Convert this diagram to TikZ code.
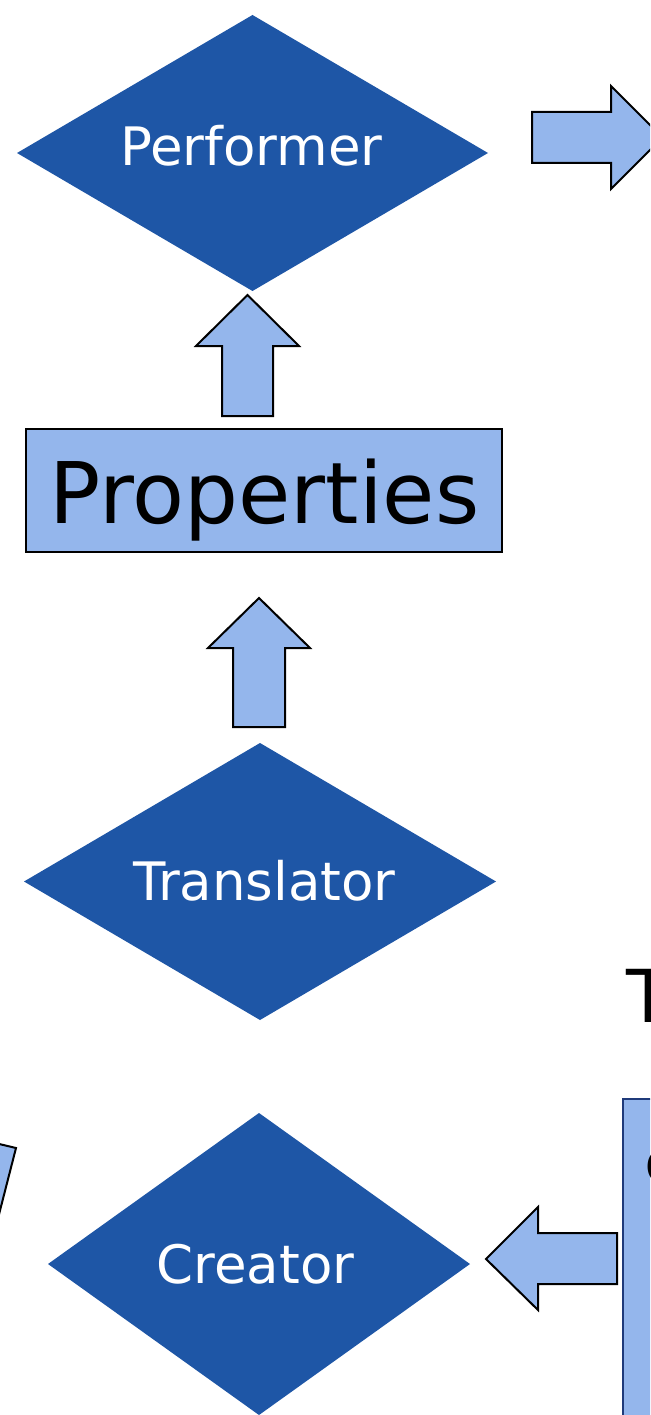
\documentclass[tikz,border=0pt]{standalone}
\usepackage{fontspec}
\setmainfont{DejaVu Sans}
\definecolor{deepblue}{HTML}{1E56A6}
\definecolor{paleblue}{HTML}{94B6EC}
\definecolor{edgenavy}{HTML}{1F3A7A}
\tikzset{
  decision/.style={fill=deepblue},
  blockarrow/.style={draw=black, fill=paleblue, line width=2pt, line join=miter},
  whitelabel/.style={text=white, inner sep=0pt, anchor=base, font=\fontsize{53}{60}\selectfont},
  darklabel/.style={text=black, inner sep=0pt}
}
\begin{document}
\begin{tikzpicture}[x=1pt, y=-1pt]
\useasboundingbox (0,0) rectangle (650,1415);
\clip (0,0) rectangle (650,1415);

% decision diamonds
\fill[decision] (17,153) -- (252.5,15) -- (488,153) -- (252.5,291) -- cycle;
\fill[decision] (24,881.5) -- (260,743) -- (496,881.5) -- (260,1020) -- cycle;
\fill[decision] (48,1264) -- (259,1113) -- (470,1264) -- (259,1415) -- cycle;
\node[whitelabel] (performer) at (251.5,166) {Performer};
\node[whitelabel] (translator) at (264.5,900) {Translator};
\node[whitelabel] (creator) at (255.5,1283) {Creator};

% properties box
\draw[fill=paleblue, line width=1.8pt] (26,429) rectangle (502,552);
\node[darklabel, anchor=base, font=\fontsize{85}{96}\selectfont] (properties) at (264.5,523) {Properties};

% block arrows
\draw[blockarrow] (532,112) -- (611,112) -- (611,86) -- (662.5,137.5) -- (611,189) -- (611,163) -- (532,163) -- cycle;
\draw[blockarrow] (222,416) -- (222,346) -- (196,346) -- (247.5,295) -- (299,346) -- (273,346) -- (273,416) -- cycle;
\draw[blockarrow] (233,727) -- (233,648) -- (208,648) -- (259,598) -- (310,648) -- (285,648) -- (285,727) -- cycle;
\draw[blockarrow] (617,1233) -- (538,1233) -- (538,1207) -- (486,1259) -- (538,1310) -- (538,1284) -- (617,1284) -- cycle;
\draw[blockarrow] (-30,1137) -- (16,1148) -- (-5,1230) -- (-30,1230) -- cycle;

% side box and headings at the right edge
\draw[edgenavy, line width=2.2pt, fill=paleblue] (623,1099) rectangle (720,1460);
\node[darklabel, anchor=base west, font=\fontsize{46}{54}\selectfont] (sidebox) at (645.5,1183) {C};
\node[darklabel, anchor=base west, font=\fontsize{73}{84}\selectfont] (heading) at (626,1022) {T};
\end{tikzpicture}
\end{document}
